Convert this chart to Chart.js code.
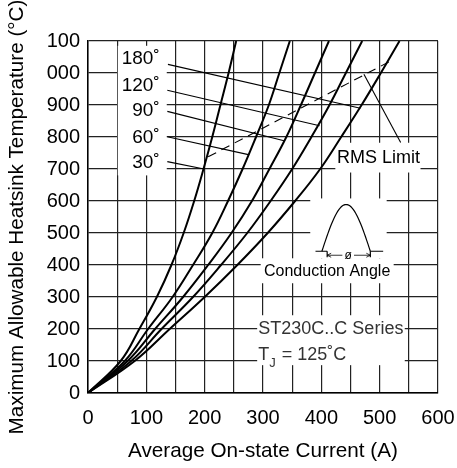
<!DOCTYPE html>
<html>
<head>
<meta charset="utf-8">
<script src="https://cdn.jsdelivr.net/npm/chart.js@4.4.1/dist/chart.umd.min.js"></script>
<style>
  html, body { margin: 0; padding: 0; background: #fff; }
  #wrap { width: 457px; height: 468px; }
</style>
</head>
<body>
<div id="wrap"><canvas id="grafico" width="457" height="468"></canvas></div>
<script>
// === datos ===
// nivel del eje Y y corriente (A) de cada curva en ese nivel
const niveles   = [0, 100, 200, 300, 400, 500, 600, 700, 800, 900, 1000, 1100];
const curva30   = [0,  56,  88, 118, 143, 164, 182, 198, 213, 227,  241,  254];
const curva60   = [0,  63, 103, 145, 180, 213, 240, 265, 288, 310,  328,  346];
const curva90   = [0,  68, 115, 163, 206, 246, 281, 311, 340, 365,  389,  413];
const curva120  = [0,  74, 126, 180, 228, 273, 313, 350, 383, 414,  442,  470];
const curva180  = [0,  80, 140, 200, 256, 308, 355, 398, 434, 469,  502,  534];

const etiquetasX = ['0', '100', '200', '300', '400', '500', '600'];
const etiquetasY = ['0', '100', '200', '300', '400', '500', '600', '700', '800', '900', '000', '100'];
const angulos = ['30˚', '60˚', '90˚', '120˚', '180˚'];

// lineas guia de cada angulo (inicio junto al texto, fin sobre la curva)
const guiaInicio = [[136, 723], [136, 801], [136, 880], [136, 946], [137, 1027]];
const guiaFin    = [[199, 700], [275, 745], [336, 788], [397, 835], [467, 890]];
// limite RMS (discontinua) y su flecha
const rmsLimite = [[206, 738], [516, 1035]];
const rmsFlecha = [[473, 996], [536, 783]];

Chart.defaults.font.family = "'Liberation Sans', Arial, sans-serif";
Chart.defaults.color = '#000';

const aPuntos = (curva) => curva.map((c, i) => ({ x: c, y: niveles[i] }));
const aPar = (p) => p.map(([x, y]) => ({ x, y }));

const curvas = [curva30, curva60, curva90, curva120, curva180].map((c) => ({
    data: aPuntos(c),
    showLine: true,
    borderColor: '#000',
    borderWidth: 2,
    pointRadius: 0,
    tension: 0.4
}));

const guias = guiaInicio.map((p, i) => ({
    data: aPar([p, guiaFin[i]]),
    showLine: true,
    borderColor: '#000',
    borderWidth: 1.1,
    pointRadius: 0
}));

const extras = [
    { data: aPar(rmsLimite), showLine: true, borderColor: '#000', borderWidth: 1.1, borderDash: [9, 6], pointRadius: 0 },
    { data: aPar(rmsFlecha), showLine: true, borderColor: '#000', borderWidth: 1.1, pointRadius: 0 }
];

// === textos, cajas blancas y dibujo del angulo de conduccion ===
const anotaciones = {
    id: 'anotaciones',
    beforeDatasetsDraw(chart) {
        const { ctx, scales: { x, y } } = chart;
        const px = (v) => x.getPixelForValue(v);
        const py = (v) => y.getPixelForValue(v);
        ctx.save();

        // cajas blancas que tapan la rejilla
        ctx.fillStyle = '#fff';
        const caja = (x0, y0, x1, y1) => ctx.fillRect(px(x0), py(y1), px(x1) - px(x0), py(y0) - py(y1));
        caja(51, 680, 135, 1085);
        caja(424, 689, 570, 782);
        caja(381, 421, 512, 608);
        caja(296, 343, 524, 421);
        caja(290, 87, 543, 243);

        ctx.fillStyle = '#000';
        ctx.textBaseline = 'middle';

        // angulos
        ctx.font = "19px 'Liberation Sans', Arial, sans-serif";
        ctx.textAlign = 'right';
        const yAngulo = [721, 799, 882, 960, 1044];
        angulos.forEach((t, i) => ctx.fillText(t, px(123), py(yAngulo[i])));

        // RMS Limit
        ctx.font = "18px 'Liberation Sans', Arial, sans-serif";
        ctx.textAlign = 'center';
        ctx.fillText('RMS Limit', px(498), py(734));

        // Conduction Angle
        ctx.font = "16px 'Liberation Sans', Arial, sans-serif";
        ctx.fillText('Conduction Angle', px(410), py(380));

        // serie y temperatura de union
        ctx.fillStyle = '#333';
        ctx.font = "18px 'Liberation Sans', Arial, sans-serif";
        ctx.textAlign = 'left';
        ctx.fillText('ST230C..C Series', px(292), py(199));
        const xt = px(292), yt = py(118);
        ctx.fillText('T', xt, yt);
        const wT = ctx.measureText('T').width;
        ctx.font = "13px 'Liberation Sans', Arial, sans-serif";
        ctx.fillText('J', xt + wT, yt + 8);
        const wJ = ctx.measureText('J').width;
        ctx.font = "18px 'Liberation Sans', Arial, sans-serif";
        ctx.fillText(' = 125˚C', xt + wT + wJ + 1, yt);

        // media onda senoidal
        ctx.strokeStyle = '#000';
        ctx.lineWidth = 1.2;
        const xa = px(401), xb = px(484), yb = py(443), yp = py(589);
        ctx.beginPath();
        for (let k = 0; k <= 40; k++) {
            const t = k / 40;
            const xx = xa + (xb - xa) * t;
            const yy = yb - (yb - yp) * Math.sin(Math.PI * t);
            if (k === 0) ctx.moveTo(xx, yy); else ctx.lineTo(xx, yy);
        }
        ctx.stroke();
        ctx.beginPath();
        ctx.moveTo(px(390), yb); ctx.lineTo(px(410), yb);
        ctx.moveTo(xb, yb); ctx.lineTo(px(506), yb);
        ctx.moveTo(px(410), yb); ctx.lineTo(px(410), yb + 6);
        ctx.moveTo(xb, yb); ctx.lineTo(xb, yb + 6);
        ctx.stroke();
        // flecha del angulo
        ctx.lineWidth = 0.8;
        const ya = yb + 4;
        ctx.beginPath();
        ctx.moveTo(px(410), ya); ctx.lineTo(px(436), ya);
        ctx.moveTo(px(456), ya); ctx.lineTo(xb, ya);
        ctx.moveTo(px(410), ya); ctx.lineTo(px(410) + 4, ya - 2);
        ctx.moveTo(px(410), ya); ctx.lineTo(px(410) + 4, ya + 2);
        ctx.moveTo(xb, ya); ctx.lineTo(xb - 4, ya - 2);
        ctx.moveTo(xb, ya); ctx.lineTo(xb - 4, ya + 2);
        ctx.stroke();
        ctx.font = "12px 'Liberation Sans', Arial, sans-serif";
        ctx.textAlign = 'center';
        ctx.fillStyle = '#000';
        ctx.fillText('ø', px(446), ya);

        ctx.restore();
    }
};

new Chart(document.getElementById('grafico'), {
    type: 'scatter',
    data: { datasets: [...curvas, ...guias, ...extras] },
    options: {
        responsive: false,
        animation: false,
        events: [],
        layout: { padding: { top: 41, right: 19, left: 0, bottom: 0 } },
        plugins: { legend: { display: false }, tooltip: { enabled: false } },
        scales: {
            x: {
                type: 'linear',
                min: 0,
                max: 600,
                afterFit(s) { s.height = 75; s.paddingLeft = 0; s.paddingRight = 0; },
                grid: { color: '#222', lineWidth: 1.2, drawTicks: false },
                border: { color: '#000', width: 1.5 },
                ticks: {
                    stepSize: 50,
                    autoSkip: false,
                    maxRotation: 0,
                    padding: 13,
                    font: { size: 20 },
                    callback: (v) => (v % 100 === 0 ? etiquetasX[v / 100] : '')
                },
                title: {
                    display: true,
                    text: 'Average On-state Current (A)',
                    font: { size: 20.7 },
                    padding: { top: 0, bottom: 4 }
                }
            },
            y: {
                type: 'linear',
                min: 0,
                max: 1100,
                afterFit(s) { s.width = 88; s.paddingTop = 0; s.paddingBottom = 0; },
                grid: { color: '#222', lineWidth: 1.2, drawTicks: false },
                border: { color: '#000', width: 1.5 },
                ticks: {
                    stepSize: 100,
                    autoSkip: false,
                    padding: 8,
                    font: { size: 20 },
                    callback: (v) => etiquetasY[Math.round(v / 100)]
                },
                title: {
                    display: true,
                    text: 'Maximum Allowable Heatsink Temperature (°C)',
                    font: { size: 20.7 },
                    padding: { top: 5, bottom: 0 }
                }
            }
        }
    },
    plugins: [anotaciones]
});
</script>
</body>
</html>
